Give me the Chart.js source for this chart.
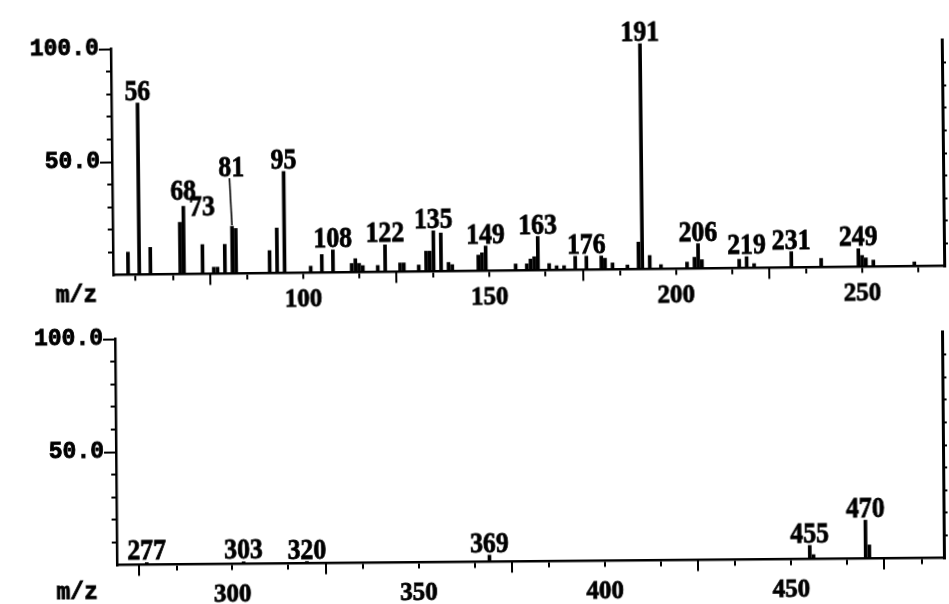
<!DOCTYPE html>
<html><head><meta charset="utf-8">
<script src="https://cdn.jsdelivr.net/npm/chart.js@4.4.0/dist/chart.umd.min.js"></script>
<style>
html,body{margin:0;padding:0;background:#fff;width:949px;height:604px;overflow:hidden}
.panel{position:absolute;left:0}
#p1{top:0;width:949px;height:310px;transform-origin:527.5px 157.5px;transform:rotate(-0.62deg)}
#p2{top:310px;width:949px;height:294px;transform-origin:529.5px 138.5px;transform:rotate(-0.49deg)}
canvas{display:block}
</style></head><body>
<div class="panel" id="p1"><canvas id="c1" width="949" height="310"></canvas></div>
<div class="panel" id="p2"><canvas id="c2" width="949" height="294"></canvas></div>
<script>
// ---- data (m/z vs relative intensity %) ----
const topMz =        [53, 56, 59, 67, 68, 73, 76, 77, 79, 81, 82, 91, 93, 95, 102, 105, 108, 113, 114, 115, 116, 120, 122, 126, 127, 131, 133, 134, 135, 137, 139, 140, 147, 148, 149, 157, 160, 161, 162, 163, 166, 168, 170, 173, 176, 180, 181, 183, 187, 190, 191, 193, 196, 203, 205, 206, 207, 217, 219, 221, 231, 239, 249, 250, 251, 253, 264];
const topIntensity = [10, 76, 12, 23, 30, 13,  3,  3, 13, 21, 20, 10, 20, 45,   3,   8,  10,   4,   6,   4,   3,   3,  12,   4,   4,   3,   9,   9,  18,  17,   4,   3,   7,   8,  11,   3,   3,   5,   6,  15,   3,   2,   2,   6,   6,   6,   5,   3,   2,  12, 100,   6,   2,   3,   5,  11,   4,   4,   5,   2,   7,   4,   8,   5,   4,   3,   2];
const topPeakLabels = [56, 68, 73, 81, 95, 108, 122, 135, 149, 163, 176, 191, 206, 219, 231, 249];
const topXTicksMajor = [100, 150, 200, 250];
const topXTicksMinor = [50, 60, 70, 80, 90, 110, 120, 130, 140, 160, 170, 180, 190, 210, 220, 230, 240, 260, 270];

const bottomMz =        [277, 303, 320, 369, 455, 456, 470, 471];
const bottomIntensity = [1,   1,   0.8, 3,   6,   2,   17,  6];
const bottomPeakLabels = [277, 303, 320, 369, 455, 470];
const bottomXTicksMajor = [300, 350, 400, 450];
const bottomXTicksMinor = [270, 280, 290, 310, 320, 330, 340, 360, 370, 380, 390, 410, 420, 430, 440, 460, 470, 480, 490];

const yTicksMajor = [50, 100];
const yTicksMinor = [10, 20, 30, 40, 60, 70, 80, 90];

// ---- drawing ----
const peakLabelPlugin = {
  id: 'peakLabels',
  afterDatasetsDraw(chart, args, opts) {
    const ctx = chart.ctx, xs = chart.scales.x, ys = chart.scales.y;
    const pts = chart.data.datasets[0].data;
    ctx.save();
    ctx.fillStyle = '#000'; ctx.strokeStyle = '#000';
    ctx.font = 'bold 30px "Liberation Serif"';
    ctx.textAlign = 'center'; ctx.textBaseline = 'alphabetic';
    opts.labels.forEach(m => {
      const p = pts.find(d => d.x === m);
      const px = xs.getPixelForValue(m), py = ys.getPixelForValue(p.y);
      const lift = opts.lift[m] || 0;
      const ty = py - 3 - lift;
      ctx.save(); ctx.translate(px, ty); ctx.scale(0.86, 1);
      ctx.lineWidth = 0.8; ctx.fillText(String(m), 0, 0); ctx.strokeText(String(m), 0, 0);
      ctx.restore();
      if (opts.leader.includes(m)) {
        ctx.lineWidth = 1.6; ctx.beginPath(); ctx.moveTo(px - 2, ty + 2); ctx.lineTo(px, py - 1); ctx.stroke();
      }
    });
    ctx.font = 'bold 23px "Liberation Mono"';
    ctx.textBaseline = 'middle';
    ctx.lineWidth = 0.8;
    const mx = chart.chartArea.left - opts.mzDx, my = chart.chartArea.bottom + opts.mzDy;
    ctx.fillText('m/z', mx, my); ctx.strokeText('m/z', mx, my);
    ctx.restore();
  }
};

function setTicks(arr) { return s => { s.ticks = arr.map(v => ({ value: v })); }; }

function makeChart(id, mz, inten, labels, xmin, xmax, xMajor, xMinor, g) {
  const black = '#000';
  new Chart(document.getElementById(id), {
    type: 'bar',
    data: { datasets: [{ data: mz.map((m, i) => ({ x: m, y: inten[i] })), backgroundColor: black, barThickness: 3, xAxisID: 'x', yAxisID: 'y' }] },
    plugins: [peakLabelPlugin],
    options: {
      responsive: false, animation: false, devicePixelRatio: 1,
      layout: { padding: { top: g.padTop, right: 6, left: 0, bottom: 0 } },
      plugins: { legend: { display: false }, tooltip: { enabled: false },
        peakLabels: { labels: labels, lift: g.lift, leader: g.leader, mzDx: g.mzDx, mzDy: g.mzDy } },
      scales: {
        x: { type: 'linear', position: 'bottom', min: xmin, max: xmax, offset: false, weight: 0,
             afterBuildTicks: setTicks(xMinor), afterFit: s => { s.height = 0; },
             grid: { drawOnChartArea: false, drawTicks: true, tickLength: 6, color: black, lineWidth: 2 },
             border: { display: true, color: black, width: 2.5 }, ticks: { display: false } },
        xMajor: { type: 'linear', position: 'bottom', min: xmin, max: xmax, offset: false, weight: 1,
             afterBuildTicks: setTicks(xMajor), afterFit: s => { s.height = g.xH; },
             grid: { drawOnChartArea: false, drawTicks: true, tickLength: 11, color: black, lineWidth: 2 },
             border: { display: false },
             ticks: { color: black, padding: g.xPad, maxRotation: 0, autoSkip: false, textStrokeColor: black, textStrokeWidth: 0.8,
                      font: { family: '"Liberation Serif"', weight: 'bold', size: 25 } } },
        y: { type: 'linear', position: 'left', min: 0, max: 100, weight: 0,
             afterBuildTicks: setTicks(yTicksMinor), afterFit: s => { s.width = 0; },
             grid: { drawOnChartArea: false, drawTicks: true, tickLength: 5, color: black, lineWidth: 2 },
             border: { display: true, color: black, width: 2.5 }, ticks: { display: false } },
        yMajor: { type: 'linear', position: 'left', min: 0, max: 100, weight: 1,
             afterBuildTicks: setTicks(yTicksMajor), afterFit: s => { s.width = g.leftW; },
             grid: { drawOnChartArea: false, drawTicks: true, tickLength: 12, color: black, lineWidth: 2 },
             border: { display: false },
             ticks: { color: black, padding: 0, callback: v => v.toFixed(1), textStrokeColor: black, textStrokeWidth: 0.8,
                      font: { family: '"Liberation Mono"', weight: 'bold', size: 23 } } },
        yRight: { type: 'linear', position: 'right', min: 0, max: 100,
             afterBuildTicks: setTicks(yTicksMinor.concat([50])), afterFit: s => { s.width = 0; },
             grid: { drawOnChartArea: false, drawTicks: true, tickLength: 4, color: black, lineWidth: 2 },
             border: { display: true, color: black, width: 3 }, ticks: { display: false } }
      }
    }
  });
}

makeChart('c1', topMz, topIntensity, topPeakLabels, 49, 272, topXTicksMajor, topXTicksMinor,
  { padTop: 44.5, leftW: 112, xH: 39.5, xPad: 1, lift: { 68: 4, 73: 26, 81: 47 }, leader: [81], mzDx: 37, mzDy: 21 });
makeChart('c2', bottomMz, bottomIntensity, bottomPeakLabels, 269, 491, bottomXTicksMajor, bottomXTicksMinor,
  { padTop: 25.5, leftW: 116, xH: 42.5, xPad: 5, lift: {}, leader: [], mzDx: 40, mzDy: 28 });
</script>
</body></html>
